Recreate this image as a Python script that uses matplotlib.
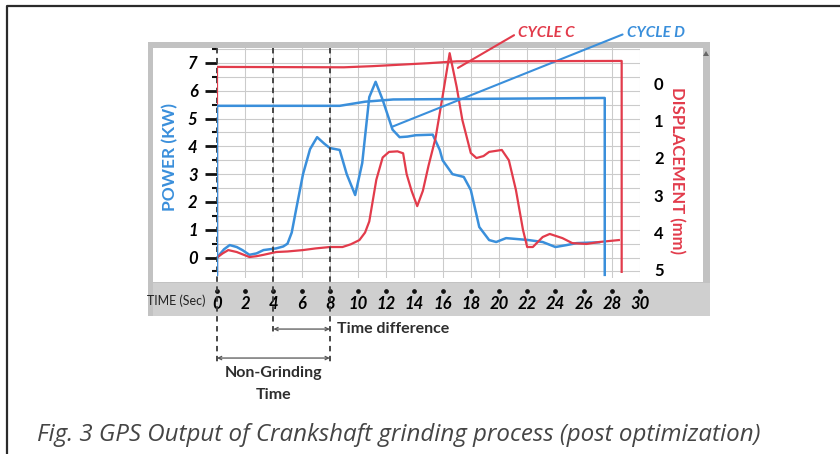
import matplotlib
matplotlib.use("Agg")
import matplotlib.pyplot as plt
import matplotlib.transforms as mtransforms
from matplotlib.patches import Rectangle, Polygon
from matplotlib.lines import Line2D
import numpy as np

plt.rcParams['font.family'] = ['Lato', 'DejaVu Sans']

# power traces (KW)
t_power_c = [0, 0.4, 0.8, 1.4, 1.9, 2.3, 2.8, 3.3, 4.2, 5.0, 6.1, 7.0, 8.0, 8.9, 9.5, 10.1, 10.5,
             10.8, 11.3, 11.75, 12.2, 12.8, 13.2, 13.45, 13.8, 14.2, 14.6, 15.0, 15.5, 16.0, 16.5,
             17.0, 17.4, 18.0, 18.4, 18.9, 19.3, 20.2, 20.7, 21.2, 21.7, 22.0, 22.4, 23.1, 23.6,
             24.5, 25.2, 26.2, 27.1, 28.5]
power_c = [0, 0.15, 0.27, 0.2, 0.1, 0.02, 0.05, 0.1, 0.2, 0.22, 0.27, 0.33, 0.38, 0.38, 0.48, 0.63,
           0.9, 1.3, 2.8, 3.6, 3.8, 3.82, 3.75, 3.0, 2.4, 1.85, 2.4, 3.3, 4.3, 5.8, 7.35,
           6.13, 4.95, 3.76, 3.58, 3.65, 3.8, 3.87, 3.5, 2.43, 1.0, 0.38, 0.38, 0.74, 0.85,
           0.7, 0.52, 0.49, 0.56, 0.63]

t_power_d = [0, 0.5, 0.9, 1.4, 1.8, 2.3, 2.8, 3.3, 4.2, 4.7, 5.0, 5.3, 5.6, 6.1, 6.6, 7.1, 7.6,
             8.0, 8.7, 9.2, 9.8, 10.3, 10.8, 11.25, 11.75, 12.45, 12.95, 13.5, 14.1, 15.3, 15.8,
             16.0, 16.7, 17.5, 18.0, 18.6, 19.3, 19.8, 20.5, 21.2, 22.1, 23.1, 24.0, 24.8, 25.5, 27.1]
power_d = [0, 0.3, 0.45, 0.38, 0.27, 0.1, 0.15, 0.27, 0.33, 0.4, 0.5, 0.9, 1.7, 3.0, 3.9, 4.33, 4.1,
           3.94, 3.87, 3.0, 2.25, 3.4, 5.77, 6.32, 5.67, 4.6, 4.33, 4.35, 4.4, 4.42, 3.87,
           3.5, 3.0, 2.9, 2.43, 1.1, 0.63, 0.56, 0.7, 0.67, 0.63, 0.56, 0.38, 0.45, 0.52, 0.55]

# displacement traces (mm)
t_disp_c = [0, 0, 9, 11, 15, 17, 28.7, 28.7]
disp_c = [5.1, -0.43, -0.42, -0.45, -0.53, -0.58, -0.59, 5.05]
t_disp_d = [0, 0, 8.7, 10.5, 12.5, 27.5, 27.5]
disp_d = [5.13, 0.61, 0.61, 0.5, 0.44, 0.40, 5.13]

time_ticks = list(range(0, 31, 2))
power_ticks = list(range(0, 8))
power_grid = list(np.arange(-0.5, 7.6, 0.5))
disp_ticks = list(range(0, 6))
ref_times = [0, 4, 8]

BLUE = '#3a8fdb'
RED = '#e23b4b'
GRID = '#cbcbcb'
W, H = 840, 454


def fx(px):
    return px / W


def fy(py):
    return 1 - py / H


fig = plt.figure(figsize=(W / 100, H / 100), dpi=100)

# outer frame (top + left)
fig.add_artist(Line2D([fx(7), fx(7), fx(840)], [fy(454), fy(6), fy(6)],
                      color='#2b2b2b', lw=1.6))

# gray window around the chart
fig.patches.append(Rectangle((fx(148), fy(316)), fx(710) - fx(148), fy(42) - fy(316),
                             transform=fig.transFigure, fc='#c2c2c2', ec='none', zorder=-5))
fig.patches.append(Rectangle((fx(153), fy(316)), fx(710) - fx(153), fy(283) - fy(316),
                             transform=fig.transFigure, fc='#cfcfcf', ec='none', zorder=-5))
fig.patches.append(Rectangle((fx(153), fy(282)), fx(703) - fx(153), fy(48) - fy(282),
                             transform=fig.transFigure, fc='white', ec='none', zorder=-5))
fig.patches.append(Polygon([[fx(703), fy(56)], [fx(709), fy(56)], [fx(706), fy(51)]],
                           closed=True, transform=fig.transFigure, fc='#666666', ec='none', zorder=-4))

ax = fig.add_axes([fx(217), fy(278), fx(640) - fx(217), fy(48) - fy(278)])
ax.set_zorder(2)
ax.set_xlim(0, 30)
ax.set_ylim(-0.734, 7.536)
ax.set_facecolor('none')
for s in ax.spines.values():
    s.set_visible(False)

# light grid: every 2 s and every 0.5 KW
for t in time_ticks[1:]:
    ax.axvline(t, color=GRID, lw=0.75, zorder=1)
for p in power_grid:
    ax.axhline(p, color=GRID, lw=0.8, zorder=1)

ax.set_yticks(power_ticks)
ax.set_yticks(power_grid, minor=True)
ax.set_yticklabels([str(v) for v in power_ticks], fontsize=12, fontweight='bold', fontstyle='italic')
ax.tick_params(axis='y', which='major', length=9, width=2, color='#111', pad=5)
ax.tick_params(axis='y', which='minor', length=3.5, width=1.5, color='#111')
ax.set_xticks(time_ticks)
ax.set_xticklabels([str(v) for v in time_ticks], fontsize=12, fontweight='bold', fontstyle='italic')
ax.tick_params(axis='x', length=0, pad=13)

ax.plot(t_power_d, power_d, color=BLUE, lw=1.8, solid_joinstyle='round', zorder=3)
ax.plot(t_power_c, power_c, color=RED, lw=1.6, solid_joinstyle='round', zorder=3)

ax2 = ax.twinx()
ax2.set_zorder(3)
ax2.set_ylim(5.214, -0.936)
for s in ax2.spines.values():
    s.set_visible(False)
ax2.set_yticks(disp_ticks)
ax2.set_yticklabels([str(v) for v in disp_ticks], fontsize=12, fontweight='bold')
ax2.tick_params(axis='y', length=0, pad=10)
ax2.plot(t_disp_c, disp_c, color=RED, lw=1.6, zorder=3)
ax2.plot(t_disp_d, disp_d, color=BLUE, lw=1.8, zorder=3)

blend = mtransforms.blended_transform_factory(ax.transData, ax.transAxes)

# dashed reference lines at 0, 4 and 8 s
ref_bottom = {0: -0.365, 4: -0.25, 8: -0.365}
for t in ref_times:
    ax.plot([t, t], [1, ref_bottom[t]], transform=blend, color='#3a3a3a', lw=1.3,
            ls=(0, (3, 2.5)), clip_on=False, zorder=5)

# small dots above the time labels
ax.plot(time_ticks, [-0.056] * len(time_ticks), transform=blend, ls='none', marker='o',
        ms=2.4, color='#111', clip_on=False)

ax.annotate('', xy=(4, -0.222), xytext=(8, -0.222), xycoords=blend, textcoords=blend,
            arrowprops=dict(arrowstyle='<->', color='#555', lw=0.9, mutation_scale=6,
                            shrinkA=0, shrinkB=0), annotation_clip=False)
ax.annotate('', xy=(0, -0.348), xytext=(8, -0.348), xycoords=blend, textcoords=blend,
            arrowprops=dict(arrowstyle='<->', color='#555', lw=0.9, mutation_scale=6,
                            shrinkA=0, shrinkB=0), annotation_clip=False)
ax.text(8.5, -0.222, 'Time difference', transform=blend, ha='left', va='center',
        fontsize=11.5, fontweight='bold', color='#2e2e2e')
ax.text(4, -0.413, 'Non-Grinding', transform=blend, ha='center', va='center',
        fontsize=11.5, fontweight='bold', color='#2e2e2e')
ax.text(4, -0.509, 'Time', transform=blend, ha='center', va='center',
        fontsize=11.5, fontweight='bold', color='#2e2e2e')

# cycle labels with leader lines
ax.annotate('CYCLE C', xy=(17.09, 6.82), xytext=(21.35, 8.08), ha='left', va='center',
            fontsize=11, fontweight='bold', fontstyle='italic', color=RED,
            arrowprops=dict(arrowstyle='-', color=RED, lw=1.5, relpos=(0, 0.5),
                            shrinkA=1, shrinkB=0), annotation_clip=False)
ax.annotate('CYCLE D', xy=(12.4, 4.7), xytext=(29.05, 8.08), ha='left', va='center',
            fontsize=11, fontweight='bold', fontstyle='italic', color=BLUE,
            arrowprops=dict(arrowstyle='-', color=BLUE, lw=1.5, relpos=(0, 0.5),
                            shrinkA=1, shrinkB=0), annotation_clip=False)

fig.text(fx(170), fy(157), 'POWER (KW)', rotation=90, ha='center', va='center',
         fontsize=12.5, fontweight='bold', color=BLUE)
fig.text(fx(677), fy(171), 'DISPLACEMENT (mm)', rotation=270, ha='center', va='center',
         fontsize=12, fontweight='bold', color=RED)
fig.text(fx(176), fy(301), 'TIME (Sec)', ha='center', va='center', fontsize=9,
         family=['Liberation Sans Narrow', 'Lato'], color='#222')

fig.text(fx(37), fy(435), 'Fig. 3 GPS Output of Crankshaft grinding process (post optimization)',
         ha='left', va='center', fontsize=17.4, fontstyle='italic', family=['Open Sans', 'DejaVu Sans'],
         color='#454545')

fig.savefig('out.png', dpi=100)
